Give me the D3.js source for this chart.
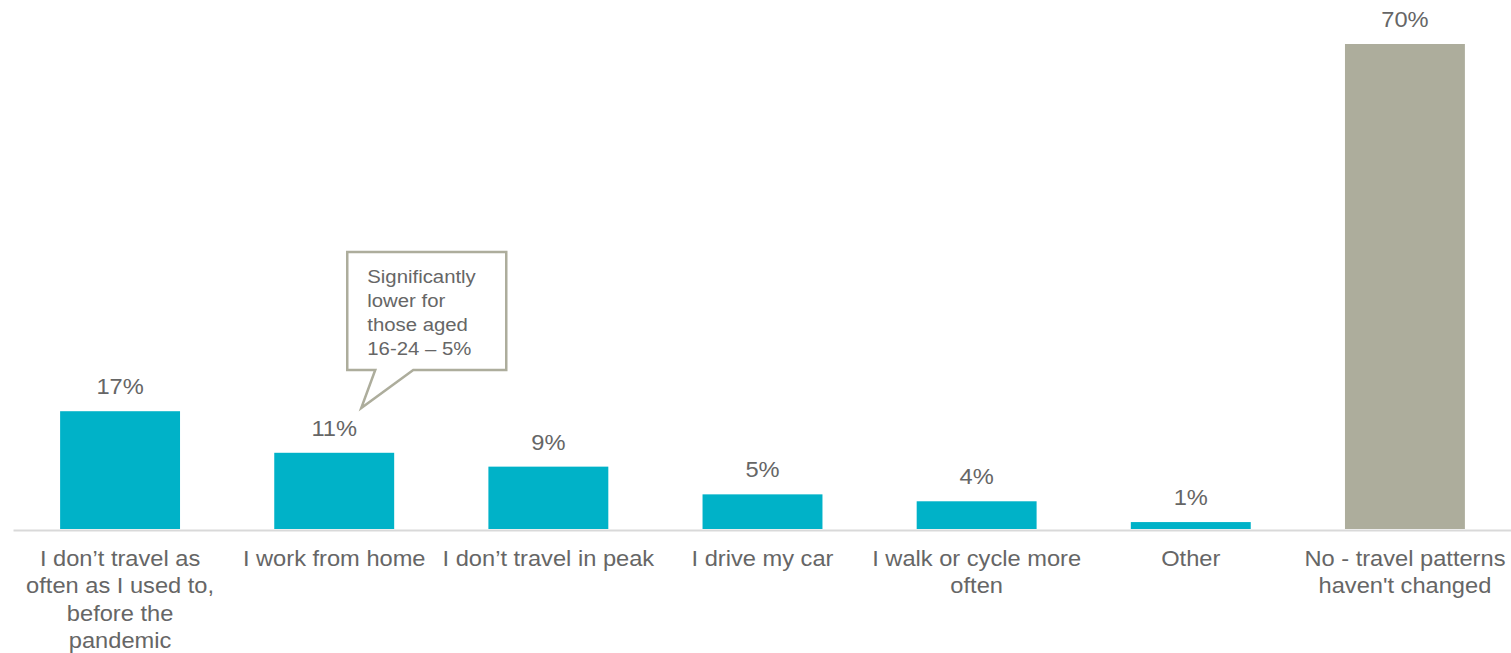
<!DOCTYPE html>
<html>
<head>
<meta charset="utf-8">
<script src="https://cdn.jsdelivr.net/npm/d3@7"></script>
<style>
  html, body { margin: 0; padding: 0; background: #fff; }
  svg { display: block; font-family: "Liberation Sans", Arial, sans-serif; }
</style>
</head>
<body>
<svg id="chart" width="1511" height="653"></svg>
<script>
// Survey answers: how travel habits changed since the pandemic
const categories = [
  "I don\u2019t travel as often as I used to, before the pandemic",
  "I work from home",
  "I don\u2019t travel in peak",
  "I drive my car",
  "I walk or cycle more often",
  "Other",
  "No - travel patterns haven't changed"
];
// Wrapped lines for the category labels
const categoryLines = [
  ["I don\u2019t travel as", "often as I used to,", "before the", "pandemic"],
  ["I work from home"],
  ["I don\u2019t travel in peak"],
  ["I drive my car"],
  ["I walk or cycle more", "often"],
  ["Other"],
  ["No - travel patterns", "haven't changed"]
];
const values = [17, 11, 9, 5, 4, 1, 70];
const valueLabels = ["17%", "11%", "9%", "5%", "4%", "1%", "70%"];
const calloutLines = ["Significantly", "lower for", "those aged", "16-24 \u2013 5%"];

const W = 1511, H = 653;
const baseY = 529, topY = 44;
const teal = "#00b2c8", grey = "#adad9c", textCol = "#666666";
const stretch = 1.1;

const svg = d3.select("#chart");

const x = d3.scaleBand()
  .domain(categories)
  .range([13, 1512])
  .paddingInner(0.44)
  .paddingOuter(0.22);

const y = d3.scaleLinear()
  .domain([0, 70])
  .range([baseY, topY]);

// Bars
svg.append("g").selectAll("rect")
  .data(categories)
  .join("rect")
  .attr("x", d => x(d))
  .attr("width", x.bandwidth())
  .attr("y", (d, i) => y(values[i]))
  .attr("height", (d, i) => y(0) - y(values[i]))
  .attr("fill", (d, i) => i === categories.length - 1 ? grey : teal);

// Baseline axis with multi-line category labels
const axis = svg.append("g")
  .attr("transform", `translate(0,${baseY + 1})`)
  .call(d3.axisBottom(x).tickSize(0).tickSizeOuter(0).tickPadding(0));
axis.select(".domain").attr("stroke", "#d9d9d9").attr("stroke-width", 2);
axis.selectAll(".tick text").remove();
axis.selectAll(".tick").each(function(d) {
  const i = categories.indexOf(d);
  const t = d3.select(this).append("text")
    .attr("transform", `scale(${stretch},1)`)
    .attr("text-anchor", "middle")
    .attr("fill", textCol)
    .style("font-size", "21.5px")
    .style("font-family", "'Liberation Sans', Arial, sans-serif");
  categoryLines[i].forEach((line, k) => {
    t.append("tspan").attr("x", 0).attr("y", 36 + k * 27.5).text(line);
  });
});

// Value labels
svg.append("g").selectAll("text")
  .data(categories)
  .join("text")
  .attr("transform", (d, i) =>
    `translate(${x(d) + x.bandwidth() / 2},${y(values[i]) - 17}) scale(${stretch},1)`)
  .attr("text-anchor", "middle")
  .attr("fill", textCol)
  .style("font-size", "21.5px")
  .text((d, i) => valueLabels[i]);

// Speech-bubble note attached to "I work from home"
const bx = x(categories[1]);
const box = { l: bx + 73, r: bx + 232, t: 252, b: 370 };
const tail = { a: bx + 101, c: bx + 139, tipX: bx + 87, tipY: 408 };
const bubblePath = [
  [box.l, box.t], [box.r, box.t], [box.r, box.b], [tail.c, box.b],
  [tail.tipX, tail.tipY], [tail.a, box.b], [box.l, box.b]
];
svg.append("path")
  .attr("d", d3.line()(bubblePath) + "Z")
  .attr("fill", "#fff")
  .attr("stroke", grey)
  .attr("stroke-width", 2.5)
  .attr("stroke-linejoin", "miter");

const note = svg.append("text")
  .attr("transform", `translate(${box.l + 20},0) scale(${stretch},1)`)
  .attr("fill", textCol)
  .style("font-size", "18.5px");
calloutLines.forEach((line, k) => {
  note.append("tspan").attr("x", 0).attr("y", 283 + k * 24).text(line);
});
</script>
</body>
</html>
